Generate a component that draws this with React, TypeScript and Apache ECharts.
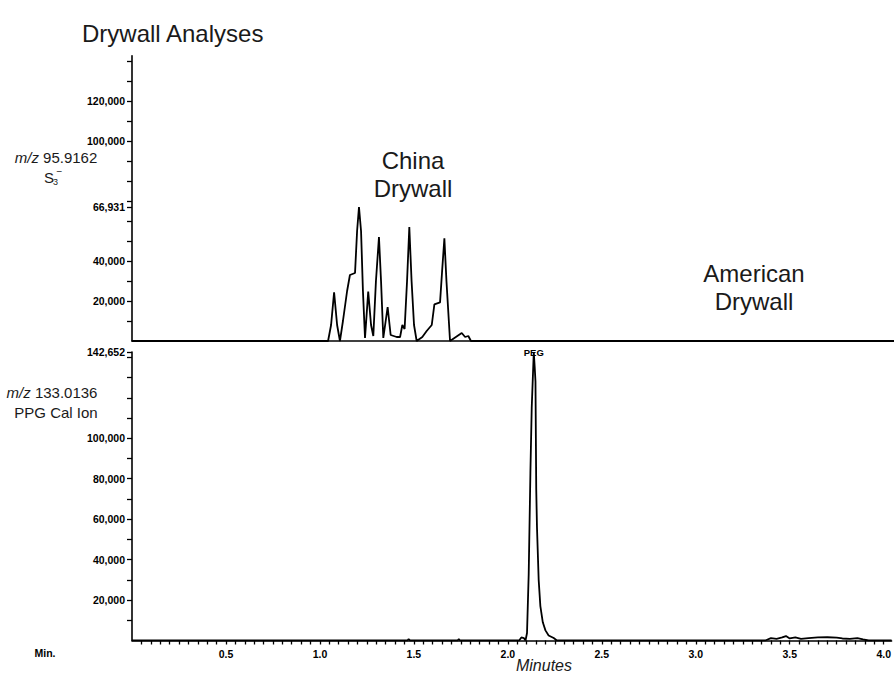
import React, { useEffect, useRef } from "react";
import * as echarts from "echarts";

// China drywall trace: m/z 95.9162 (S3-)
const chinaTime = [0, 1.040, 1.056, 1.072, 1.088, 1.103, 1.119, 1.141, 1.156, 1.183, 1.194, 1.204, 1.215, 1.225, 1.236, 1.253, 1.268, 1.280, 1.294, 1.310, 1.321, 1.333, 1.356, 1.372, 1.404, 1.422, 1.434, 1.446, 1.459, 1.471, 1.483, 1.496, 1.510, 1.540, 1.563, 1.590, 1.604, 1.634, 1.645, 1.657, 1.668, 1.687, 1.749, 1.767, 1.784, 1.798, 4.042];
const chinaSignal = [0, 0, 8000, 24350, 8000, 0, 10000, 25000, 33000, 34000, 55000, 66931, 55000, 25000, 1500, 24700, 8000, 2500, 30000, 52000, 30000, 1500, 17000, 3000, 2000, 2000, 8000, 6000, 30000, 57000, 30000, 8000, 0, 2000, 5000, 8000, 18300, 19300, 35000, 51300, 30000, 0, 4000, 2000, 2500, 0, 0];

// PPG calibration ion trace: m/z 133.0136
const pegTime = [0, 1.465, 1.472, 1.480, 1.732, 1.739, 1.746, 2.060, 2.072, 2.085, 2.094, 2.102, 2.111, 2.120, 2.127, 2.138, 2.143, 2.147, 2.151, 2.155, 2.164, 2.173, 2.186, 2.200, 2.217, 2.244, 2.261, 3.370, 3.400, 3.430, 3.460, 3.480, 3.500, 3.530, 3.560, 3.600, 3.650, 3.700, 3.750, 3.780, 3.820, 3.860, 3.890, 3.920, 4.042];
const pegSignal = [0, 0, 700, 0, 0, 700, 0, 0, 1500, 1200, 0, 3700, 33000, 83000, 115000, 142652, 135000, 128000, 75000, 56000, 30000, 17000, 9000, 5000, 2500, 1200, 0, 0, 1200, 800, 1500, 2200, 1000, 1500, 800, 1200, 1500, 1600, 1400, 1000, 800, 1200, 500, 0, 0];

const yMax = 142652;
const xMax = 4.042;
const topTickValues = [10000, 20000, 30000, 40000, 50000, 60000, 66931, 70000, 80000, 90000, 100000, 110000, 120000, 130000, 140000];
const topLabelValues = [20000, 40000, 66931, 100000, 120000];
const bottomTickValues = [10000, 20000, 30000, 40000, 50000, 60000, 70000, 80000, 90000, 100000, 110000, 120000, 130000, 140000, 142652];
const bottomLabelValues = [20000, 40000, 60000, 80000, 100000, 142652];
const xLabelValues = [0.5, 1.0, 1.5, 2.0, 2.5, 3.0, 3.5, 4.0];

const NARROW = "'Liberation Sans Narrow', 'Liberation Sans', Arial, sans-serif";
const SANS = "'Liberation Sans', Arial, sans-serif";
const INK = "#1a1a1a";

export default function App() {
  const ref = useRef<HTMLDivElement>(null);

  useEffect(() => {
    if (!ref.current) return;
    const chart = echarts.init(ref.current, undefined, { renderer: "svg" });

    const xTicks: number[] = [];
    for (let i = 1; i * 0.05 <= 4.0001; i++) xTicks.push(Math.round(i * 5) / 100);

    const fmt = (v: number) => Math.round(v).toLocaleString("en-US");
    const fmtX = (v: number) => v.toFixed(1);

    const yAxisBase = (ticks: number[], labels: number[], gridIndex: number) => ({
      type: "value",
      gridIndex,
      min: 0,
      max: yMax,
      splitLine: { show: false },
      axisLine: { show: true, lineStyle: { color: "#000", width: 1.6 } },
      axisTick: { show: true, length: 5, customValues: ticks, lineStyle: { color: "#000", width: 1.3 } },
      axisLabel: {
        customValues: labels,
        formatter: fmt,
        fontSize: 10.5,
        fontWeight: "bold",
        fontFamily: NARROW,
        color: "#000",
        margin: 7,
      },
    });

    const text = (x: number, y: number, t: string, size: number, extra: any = {}) => ({
      type: "text",
      x,
      y,
      style: { text: t, fontSize: size, fontFamily: SANS, fill: INK, textAlign: "center", textVerticalAlign: "middle", ...extra },
    });

    const option: any = {
      animation: false,
      grid: [
        { left: 132, top: 55.7, width: 762, height: 285.3 },
        { left: 132, top: 352, width: 762, height: 288.5 },
      ],
      xAxis: [
        {
          type: "value",
          gridIndex: 0,
          min: 0,
          max: xMax,
          splitLine: { show: false },
          axisLine: { show: true, onZero: false, lineStyle: { color: "#000", width: 1.6 } },
          axisTick: { show: false },
          axisLabel: { show: false },
        },
        {
          type: "value",
          gridIndex: 1,
          min: 0,
          max: xMax,
          splitLine: { show: false },
          axisLine: { show: true, onZero: false, lineStyle: { color: "#000", width: 1.6 } },
          axisTick: { show: true, length: 4, customValues: xTicks, lineStyle: { color: "#000", width: 1.3 } },
          axisLabel: {
            customValues: xLabelValues,
            formatter: fmtX,
            fontSize: 10.5,
            fontWeight: "bold",
            fontFamily: NARROW,
            color: "#000",
            margin: 8,
          },
        },
      ],
      yAxis: [yAxisBase(topTickValues, topLabelValues, 0), yAxisBase(bottomTickValues, bottomLabelValues, 1)],
      series: [
        {
          type: "line",
          xAxisIndex: 0,
          yAxisIndex: 0,
          data: chinaTime.map((t, i) => [t, chinaSignal[i]]),
          showSymbol: false,
          lineStyle: { color: "#000", width: 1.8 },
          itemStyle: { color: "#000" },
        },
        {
          type: "line",
          xAxisIndex: 1,
          yAxisIndex: 1,
          data: pegTime.map((t, i) => [t, pegSignal[i]]),
          showSymbol: false,
          lineStyle: { color: "#000", width: 1.8 },
          itemStyle: { color: "#000" },
          markPoint: {
            symbol: "circle",
            symbolSize: 1,
            itemStyle: { color: "rgba(0,0,0,0)" },
            label: {
              show: true,
              position: "inside",
              formatter: "PEG",
              fontSize: 9.5,
              fontWeight: "bold",
              fontFamily: NARROW,
              color: "#000",
            },
            data: [{ type: "max" }],
          },
        },
      ],
      graphic: [
        { type: "text", x: 82, y: 33, style: { text: "Drywall Analyses", fontSize: 24, fontFamily: SANS, fill: INK, textVerticalAlign: "middle" } },
        text(56, 157, "{i|m/z} 95.9162", 15, { rich: { i: { fontStyle: "italic", fontSize: 15, fontFamily: SANS, fill: INK } } }),
        text(49, 177, "S", 15),
        text(55.5, 182, "3", 9),
        text(59.5, 171, "−", 10),
        text(52, 392, "{i|m/z} 133.0136", 15, { rich: { i: { fontStyle: "italic", fontSize: 15, fontFamily: SANS, fill: INK } } }),
        text(56, 412, "PPG Cal Ion", 15),
        text(413, 160, "China", 24),
        text(413, 188, "Drywall", 24),
        text(754, 273, "American", 24),
        text(754, 301, "Drywall", 24),
        text(45, 653, "Min.", 10.5, { fontWeight: "bold", fontFamily: NARROW, fill: "#000" }),
        text(544, 665, "Minutes", 16, { fontStyle: "italic" }),
      ],
    };

    chart.setOption(option);
    return () => chart.dispose();
  }, []);

  return <div ref={ref} style={{ position: "fixed", left: 0, top: 0, width: 894, height: 673, background: "#fff" }} />;
}
